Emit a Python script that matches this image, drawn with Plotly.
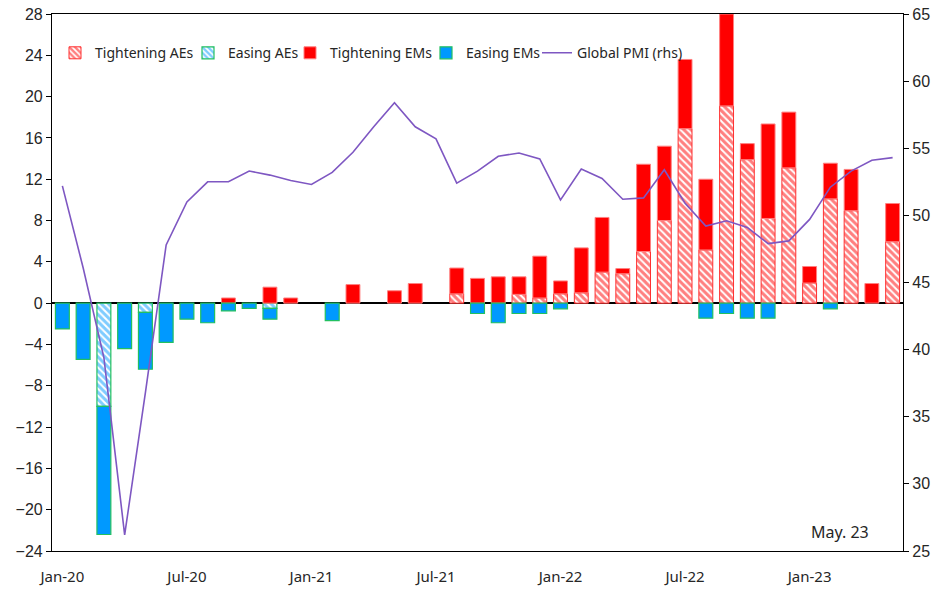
import plotly.graph_objects as go

months = [
    "Jan-20", "Feb-20", "Mar-20", "Apr-20", "May-20", "Jun-20",
    "Jul-20", "Aug-20", "Sep-20", "Oct-20", "Nov-20", "Dec-20",
    "Jan-21", "Feb-21", "Mar-21", "Apr-21", "May-21", "Jun-21",
    "Jul-21", "Aug-21", "Sep-21", "Oct-21", "Nov-21", "Dec-21",
    "Jan-22", "Feb-22", "Mar-22", "Apr-22", "May-22", "Jun-22",
    "Jul-22", "Aug-22", "Sep-22", "Oct-22", "Nov-22", "Dec-22",
    "Jan-23", "Feb-23", "Mar-23", "Apr-23", "May-23",
]

tightening_aes = [
    0, 0, 0, 0, 0, 0,
    0, 0, 0, 0, 0, 0,
    0, 0, 0, 0, 0, 0,
    0, 0.9, 0, 0, 0.85, 0.5,
    0.9, 1.0, 3.0, 2.85, 5.0, 8.0,
    16.9, 5.15, 19.1, 13.9, 8.2, 13.1,
    1.95, 10.1, 8.95, 0, 5.95,
]

easing_aes = [
    0, 0, -10.0, 0, -0.9, 0,
    0, 0, 0, 0, -0.5, 0,
    0, 0, 0, 0, 0, 0,
    0, 0, 0, 0, 0, 0,
    0, 0, 0, 0, 0, 0,
    0, 0, 0, 0, 0, 0,
    0, 0, 0, 0, 0,
]

tightening_ems = [
    0, 0, 0, 0, 0, 0,
    0, 0, 0.5, 0, 1.55, 0.5,
    0, 0, 1.8, 0, 1.2, 1.9,
    0, 2.5, 2.4, 2.55, 1.7, 4.05,
    1.25, 4.35, 5.3, 0.5, 8.45, 7.2,
    6.7, 6.85, 8.9, 1.55, 9.15, 5.4,
    1.6, 3.45, 4.0, 1.9, 3.7,
]

easing_ems = [
    -2.5, -5.45, -12.4, -4.4, -5.5, -3.8,
    -1.55, -1.9, -0.75, -0.5, -1.05, 0,
    0, -1.7, 0, 0, 0, 0,
    0, 0, -1.0, -1.9, -1.0, -1.0,
    -0.55, 0, 0, 0, 0, 0,
    0, -1.45, -1.0, -1.45, -1.45, 0,
    0, -0.55, 0, 0, 0,
]

global_pmi = [
    52.2, 46.1, 39.4, 26.2, 36.8, 47.8,
    51.0, 52.5, 52.5, 53.3, 53.0, 52.6,
    52.3, 53.2, 54.7, 56.6, 58.4, 56.6,
    55.7, 52.4, 53.3, 54.4, 54.65, 54.2,
    51.15, 53.45, 52.75, 51.2, 51.3, 53.4,
    50.9, 49.2, 49.6, 49.1, 47.9, 48.1,
    49.7, 52.1, 53.3, 54.1, 54.3,
]

x_ticks = ["Jan-20", "Jul-20", "Jan-21", "Jul-21", "Jan-22", "Jul-22", "Jan-23"]


def nz(vals):
    return [v if v != 0 else None for v in vals]


RED = "#FF0000"
BLUE = "#0099FF"
GREEN = "#22C060"
PURPLE = "#7E57C2"
TXT = "#262626"

fig = go.Figure()

fig.add_trace(go.Bar(
    x=months, y=nz(tightening_aes), name="Tightening AEs", legend="legend",
    marker=dict(color="white", line=dict(color="#FF3030", width=1),
                pattern=dict(shape="\\", fgcolor=RED, bgcolor="white",
                             size=5, solidity=0.6)),
))
fig.add_trace(go.Bar(
    x=months, y=nz(easing_aes), name="Easing AEs", legend="legend2",
    marker=dict(color="white", line=dict(color=GREEN, width=1.2),
                pattern=dict(shape="\\", fgcolor=BLUE, bgcolor="white",
                             size=5, solidity=0.6)),
))
fig.add_trace(go.Bar(
    x=months, y=nz(tightening_ems), name="Tightening EMs", legend="legend3",
    marker=dict(color=RED, line=dict(color="#FF8080", width=1)),
))
fig.add_trace(go.Bar(
    x=months, y=nz(easing_ems), name="Easing EMs", legend="legend4",
    marker=dict(color=BLUE, line=dict(color=GREEN, width=1.2)),
))
fig.add_trace(go.Scatter(
    x=months, y=global_pmi, name="Global PMI (rhs)", yaxis="y2",
    legend="legend5",
    mode="lines", line=dict(color=PURPLE, width=1.6),
))


def leg(px):
    return dict(orientation="h", x=(px - 52) / 851, y=0.927, xanchor="left",
                yanchor="middle", bgcolor="rgba(0,0,0,0)",
                font=dict(family="Noto Sans", size=14, color=TXT),
                itemwidth=30)


fig.update_layout(
    width=940, height=590, autosize=False,
    margin=dict(l=52, r=37, t=14, b=39, autoexpand=False),
    paper_bgcolor="white", plot_bgcolor="white",
    barmode="relative", bargap=0.33,
    font=dict(family="Noto Sans", size=15, color=TXT),
    showlegend=True,
    legend=leg(55), legend2=leg(188), legend3=leg(290),
    legend4=leg(426), legend5=leg(537),
    xaxis=dict(type="category", range=[-0.5, 40.5], automargin=False,
               tickmode="array", tickvals=x_ticks, ticktext=x_ticks,
               showline=True, linecolor="black", linewidth=1.2, mirror=True,
               ticks="", showgrid=False, ticklabelstandoff=12,
               ticklabeloverflow="allow",
               tickfont=dict(family="Noto Sans", size=15, color=TXT)),
    yaxis=dict(range=[-24, 28], dtick=4, tick0=0, automargin=False,
               showline=True, linecolor="black", linewidth=1.2,
               ticks="outside", ticklen=5, tickcolor="black",
               showgrid=False, zeroline=True, zerolinecolor="black",
               zerolinewidth=1.5, ticklabeloverflow="allow",
               tickfont=dict(family="Liberation Sans", size=16, color=TXT)),
    yaxis2=dict(range=[25, 65], dtick=5, tick0=25, overlaying="y",
                automargin=False, ticklabeloverflow="allow",
                side="right", showline=True, linecolor="black", linewidth=1.2,
                ticks="outside", ticklen=5, tickcolor="black",
                showgrid=False, zeroline=False,
                tickfont=dict(family="Liberation Sans", size=16, color=TXT)),
    annotations=[dict(text="May. 23", xref="paper", yref="paper",
                      x=0.926, y=0.035, xanchor="center", yanchor="middle",
                      showarrow=False,
                      font=dict(family="Noto Sans", size=16, color=TXT))],
)

fig.write_html("out.html", config={"displayModeBar": False},
               post_script="document.body.style.margin='0px';")
